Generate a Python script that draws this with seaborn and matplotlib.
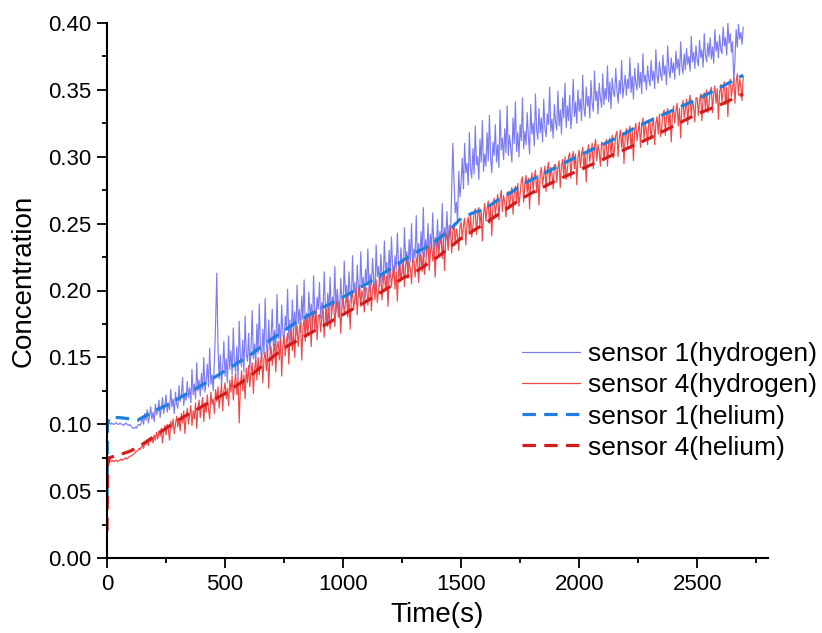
import numpy as np
import pandas as pd
import matplotlib
matplotlib.use("Agg")
import matplotlib.pyplot as plt
import seaborn as sns

# ---------------- data ----------------
# hydrogen series sampled every 5 s from 0 to 2695 s
h_time = np.arange(0, 2700, 5)

h1_hydrogen = [
    0.088, 0.100, 0.101, 0.100, 0.101, 0.100, 0.100, 0.101, 0.101, 0.100,
    0.100, 0.101, 0.100, 0.100, 0.099, 0.100, 0.101, 0.100, 0.099, 0.100,
    0.099, 0.098, 0.097, 0.097, 0.098, 0.097, 0.099, 0.100, 0.099, 0.101,
    0.104, 0.100, 0.108, 0.103, 0.111, 0.101, 0.106, 0.113, 0.104, 0.109,
    0.102, 0.115, 0.107, 0.110, 0.118, 0.105, 0.112, 0.120, 0.108, 0.114,
    0.122, 0.109, 0.116, 0.111, 0.126, 0.113, 0.119, 0.108, 0.124, 0.115,
    0.112, 0.129, 0.117, 0.121, 0.135, 0.114, 0.123, 0.118, 0.132, 0.120,
    0.127, 0.116, 0.141, 0.122, 0.130, 0.119, 0.146, 0.125, 0.133, 0.121,
    0.138, 0.126, 0.150, 0.124, 0.132, 0.145, 0.128, 0.157, 0.130, 0.137,
    0.125, 0.148, 0.175, 0.213, 0.160, 0.134, 0.152, 0.129, 0.143, 0.162,
    0.136, 0.149, 0.131, 0.166, 0.141, 0.155, 0.137, 0.172, 0.145, 0.139,
    0.158, 0.134, 0.177, 0.150, 0.143, 0.163, 0.139, 0.181, 0.152, 0.147,
    0.168, 0.141, 0.156, 0.185, 0.149, 0.160, 0.144, 0.175, 0.153, 0.190,
    0.157, 0.148, 0.171, 0.152, 0.194, 0.160, 0.151, 0.178, 0.155, 0.166,
    0.186, 0.158, 0.170, 0.153, 0.197, 0.164, 0.175, 0.157, 0.189, 0.168,
    0.161, 0.181, 0.172, 0.201, 0.164, 0.178, 0.160, 0.193, 0.170, 0.184,
    0.166, 0.204, 0.175, 0.186, 0.169, 0.196, 0.178, 0.208, 0.172, 0.183,
    0.175, 0.199, 0.181, 0.190, 0.171, 0.211, 0.184, 0.177, 0.195, 0.186,
    0.206, 0.179, 0.191, 0.183, 0.214, 0.188, 0.176, 0.198, 0.185, 0.210,
    0.182, 0.195, 0.189, 0.218, 0.184, 0.201, 0.192, 0.180, 0.209, 0.193,
    0.187, 0.222, 0.196, 0.204, 0.185, 0.214, 0.199, 0.191, 0.226, 0.198,
    0.206, 0.190, 0.219, 0.201, 0.195, 0.229, 0.203, 0.210, 0.194, 0.216,
    0.205, 0.231, 0.199, 0.212, 0.204, 0.224, 0.208, 0.197, 0.234, 0.210,
    0.218, 0.203, 0.227, 0.211, 0.206, 0.237, 0.214, 0.221, 0.205, 0.230,
    0.212, 0.240, 0.217, 0.209, 0.226, 0.215, 0.243, 0.219, 0.210, 0.232,
    0.220, 0.212, 0.247, 0.223, 0.229, 0.215, 0.238, 0.221, 0.250, 0.218,
    0.231, 0.224, 0.256, 0.222, 0.235, 0.219, 0.244, 0.228, 0.262, 0.225,
    0.238, 0.229, 0.250, 0.224, 0.242, 0.233, 0.258, 0.227, 0.240, 0.231,
    0.253, 0.230, 0.244, 0.235, 0.265, 0.232, 0.247, 0.238, 0.259, 0.236,
    0.249, 0.241, 0.275, 0.310, 0.282, 0.258, 0.266, 0.251, 0.289, 0.270,
    0.281, 0.299, 0.276, 0.310, 0.288, 0.295, 0.279, 0.318, 0.291, 0.284,
    0.306, 0.287, 0.323, 0.294, 0.300, 0.283, 0.313, 0.296, 0.327, 0.289,
    0.302, 0.293, 0.318, 0.297, 0.331, 0.299, 0.288, 0.311, 0.301, 0.324,
    0.296, 0.309, 0.292, 0.335, 0.305, 0.314, 0.298, 0.321, 0.303, 0.338,
    0.301, 0.316, 0.307, 0.296, 0.329, 0.310, 0.341, 0.304, 0.318, 0.300,
    0.324, 0.312, 0.344, 0.306, 0.319, 0.309, 0.333, 0.315, 0.302, 0.339,
    0.317, 0.325, 0.308, 0.347, 0.320, 0.313, 0.336, 0.318, 0.329, 0.311,
    0.343, 0.321, 0.315, 0.332, 0.324, 0.352, 0.319, 0.328, 0.314, 0.339,
    0.326, 0.320, 0.349, 0.323, 0.335, 0.317, 0.344, 0.329, 0.355, 0.322,
    0.338, 0.327, 0.346, 0.321, 0.333, 0.358, 0.330, 0.341, 0.325, 0.350,
    0.334, 0.343, 0.327, 0.361, 0.336, 0.330, 0.352, 0.338, 0.345, 0.329,
    0.357, 0.340, 0.334, 0.364, 0.342, 0.349, 0.332, 0.355, 0.344, 0.337,
    0.362, 0.339, 0.351, 0.343, 0.368, 0.341, 0.356, 0.336, 0.359, 0.348,
    0.345, 0.366, 0.350, 0.340, 0.357, 0.347, 0.372, 0.344, 0.353, 0.361,
    0.346, 0.358, 0.351, 0.374, 0.348, 0.360, 0.343, 0.366, 0.355, 0.350,
    0.370, 0.352, 0.363, 0.347, 0.377, 0.356, 0.361, 0.350, 0.368, 0.358,
    0.353, 0.372, 0.357, 0.364, 0.351, 0.380, 0.360, 0.355, 0.371, 0.362,
    0.357, 0.376, 0.361, 0.368, 0.354, 0.383, 0.365, 0.359, 0.374, 0.363,
    0.370, 0.358, 0.379, 0.366, 0.373, 0.361, 0.386, 0.368, 0.362, 0.377,
    0.365, 0.381, 0.369, 0.375, 0.364, 0.390, 0.371, 0.378, 0.366, 0.383,
    0.372, 0.368, 0.387, 0.374, 0.380, 0.367, 0.392, 0.376, 0.371, 0.385,
    0.375, 0.389, 0.373, 0.382, 0.370, 0.395, 0.379, 0.386, 0.374, 0.391,
    0.380, 0.377, 0.397, 0.383, 0.389, 0.376, 0.400, 0.385, 0.392, 0.378,
    0.386, 0.356, 0.372, 0.395, 0.382, 0.399, 0.388, 0.393, 0.384, 0.397,
]

h4_hydrogen = [
    0.055, 0.071, 0.072, 0.073, 0.072, 0.073, 0.072, 0.073, 0.073, 0.072,
    0.073, 0.073, 0.074, 0.073, 0.074, 0.074, 0.075, 0.074, 0.075, 0.076,
    0.076, 0.077, 0.077, 0.078, 0.079, 0.080, 0.080, 0.082, 0.081, 0.083,
    0.084, 0.082, 0.086, 0.085, 0.088, 0.084, 0.089, 0.087, 0.090, 0.086,
    0.092, 0.088, 0.094, 0.089, 0.095, 0.091, 0.097, 0.086, 0.094, 0.099,
    0.092, 0.100, 0.096, 0.088, 0.102, 0.097, 0.104, 0.093, 0.100, 0.106,
    0.098, 0.104, 0.095, 0.108, 0.101, 0.110, 0.093, 0.105, 0.112, 0.100,
    0.107, 0.114, 0.099, 0.110, 0.104, 0.116, 0.097, 0.112, 0.118, 0.105,
    0.113, 0.120, 0.102, 0.116, 0.109, 0.122, 0.111, 0.104, 0.124, 0.115,
    0.119, 0.108, 0.126, 0.117, 0.128, 0.112, 0.121, 0.130, 0.110, 0.125,
    0.131, 0.119, 0.127, 0.114, 0.133, 0.124, 0.136, 0.118, 0.129, 0.138,
    0.122, 0.134, 0.101, 0.128, 0.140, 0.125, 0.137, 0.119, 0.142, 0.131,
    0.144, 0.128, 0.139, 0.146, 0.123, 0.141, 0.148, 0.133, 0.150, 0.137,
    0.146, 0.152, 0.131, 0.149, 0.154, 0.140, 0.156, 0.127, 0.151, 0.158,
    0.144, 0.155, 0.160, 0.139, 0.157, 0.162, 0.148, 0.164, 0.136, 0.159,
    0.166, 0.151, 0.162, 0.168, 0.145, 0.165, 0.170, 0.155, 0.172, 0.150,
    0.168, 0.174, 0.158, 0.171, 0.176, 0.148, 0.173, 0.178, 0.162, 0.180,
    0.167, 0.176, 0.182, 0.158, 0.179, 0.184, 0.170, 0.186, 0.163, 0.181,
    0.182, 0.169, 0.180, 0.185, 0.165, 0.181, 0.186, 0.173, 0.188, 0.171,
    0.179, 0.189, 0.192, 0.173, 0.187, 0.193, 0.180, 0.191, 0.168, 0.188,
    0.195, 0.182, 0.191, 0.197, 0.180, 0.193, 0.171, 0.194, 0.199, 0.186,
    0.194, 0.201, 0.182, 0.198, 0.204, 0.188, 0.200, 0.195, 0.184, 0.202,
    0.202, 0.189, 0.200, 0.205, 0.185, 0.201, 0.206, 0.193, 0.208, 0.191,
    0.199, 0.209, 0.212, 0.193, 0.207, 0.213, 0.200, 0.211, 0.188, 0.208,
    0.216, 0.203, 0.212, 0.218, 0.201, 0.214, 0.192, 0.215, 0.220, 0.207,
    0.215, 0.222, 0.203, 0.219, 0.225, 0.209, 0.221, 0.216, 0.205, 0.223,
    0.223, 0.210, 0.221, 0.226, 0.206, 0.222, 0.227, 0.214, 0.229, 0.212,
    0.221, 0.231, 0.234, 0.215, 0.229, 0.235, 0.222, 0.233, 0.210, 0.230,
    0.239, 0.226, 0.235, 0.241, 0.224, 0.237, 0.215, 0.238, 0.243, 0.230,
    0.240, 0.247, 0.228, 0.244, 0.250, 0.234, 0.246, 0.241, 0.230, 0.248,
    0.251, 0.238, 0.249, 0.254, 0.234, 0.250, 0.255, 0.242, 0.257, 0.240,
    0.248, 0.258, 0.261, 0.242, 0.256, 0.262, 0.249, 0.260, 0.237, 0.257,
    0.265, 0.252, 0.261, 0.267, 0.250, 0.263, 0.241, 0.264, 0.269, 0.256,
    0.265, 0.272, 0.253, 0.269, 0.275, 0.259, 0.271, 0.266, 0.255, 0.273,
    0.274, 0.261, 0.272, 0.277, 0.257, 0.273, 0.278, 0.265, 0.280, 0.263,
    0.272, 0.282, 0.285, 0.266, 0.280, 0.286, 0.273, 0.284, 0.261, 0.281,
    0.288, 0.275, 0.284, 0.290, 0.273, 0.286, 0.264, 0.287, 0.292, 0.279,
    0.286, 0.293, 0.274, 0.290, 0.296, 0.280, 0.292, 0.287, 0.276, 0.294,
    0.294, 0.281, 0.292, 0.297, 0.277, 0.293, 0.298, 0.285, 0.300, 0.283,
    0.290, 0.300, 0.303, 0.284, 0.298, 0.304, 0.291, 0.302, 0.279, 0.299,
    0.305, 0.292, 0.301, 0.307, 0.290, 0.303, 0.281, 0.304, 0.309, 0.296,
    0.303, 0.310, 0.291, 0.307, 0.313, 0.297, 0.309, 0.304, 0.293, 0.311,
    0.310, 0.297, 0.308, 0.313, 0.293, 0.309, 0.314, 0.301, 0.316, 0.299,
    0.306, 0.316, 0.319, 0.300, 0.314, 0.320, 0.307, 0.318, 0.295, 0.315,
    0.321, 0.308, 0.317, 0.323, 0.306, 0.319, 0.297, 0.320, 0.325, 0.312,
    0.319, 0.326, 0.307, 0.323, 0.329, 0.313, 0.325, 0.320, 0.309, 0.327,
    0.326, 0.313, 0.324, 0.329, 0.309, 0.325, 0.330, 0.317, 0.332, 0.315,
    0.322, 0.332, 0.335, 0.316, 0.330, 0.336, 0.323, 0.334, 0.311, 0.331,
    0.338, 0.325, 0.334, 0.340, 0.323, 0.336, 0.314, 0.337, 0.342, 0.329,
    0.336, 0.343, 0.324, 0.340, 0.346, 0.330, 0.342, 0.337, 0.326, 0.344,
    0.344, 0.331, 0.342, 0.347, 0.327, 0.343, 0.348, 0.335, 0.350, 0.333,
    0.339, 0.349, 0.352, 0.333, 0.347, 0.353, 0.340, 0.351, 0.328, 0.348,
    0.354, 0.341, 0.350, 0.356, 0.339, 0.352, 0.330, 0.353, 0.358, 0.345,
    0.352, 0.359, 0.340, 0.356, 0.362, 0.346, 0.358, 0.353, 0.342, 0.360,
]

he1_time = [0, 2, 10, 50, 100, 130, 160, 200, 250, 300, 400, 500, 600, 700,
            800, 900, 1000, 1100, 1200, 1300, 1350, 1400, 1450, 1500, 1550,
            1600, 1650, 1700, 1750, 1800, 1900, 2000, 2100, 2200, 2250, 2300,
            2400, 2500, 2600, 2695]
he1_helium = [0.045, 0.100, 0.105, 0.105, 0.104, 0.103, 0.106, 0.110, 0.114,
              0.119, 0.129, 0.140, 0.151, 0.164, 0.176, 0.186, 0.195, 0.205,
              0.216, 0.228, 0.232, 0.238, 0.245, 0.254, 0.258, 0.261, 0.267,
              0.272, 0.278, 0.283, 0.292, 0.301, 0.309, 0.318, 0.323, 0.327,
              0.335, 0.343, 0.352, 0.361]

he4_time = [0, 3, 10, 50, 100, 150, 200, 250, 300, 400, 500, 600, 700, 750,
            800, 900, 1000, 1100, 1200, 1250, 1300, 1400, 1500, 1600, 1700,
            1750, 1800, 1900, 2000, 2100, 2200, 2250, 2300, 2400, 2500, 2600,
            2695]
he4_helium = [0.020, 0.070, 0.075, 0.077, 0.080, 0.085, 0.091, 0.097, 0.103,
              0.113, 0.123, 0.135, 0.150, 0.157, 0.162, 0.172, 0.182, 0.192,
              0.203, 0.209, 0.213, 0.225, 0.239, 0.250, 0.262, 0.268, 0.273,
              0.282, 0.290, 0.298, 0.306, 0.310, 0.314, 0.323, 0.332, 0.339,
              0.347]

labels = ["sensor 1(hydrogen)", "sensor 4(hydrogen)",
          "sensor 1(helium)", "sensor 4(helium)"]
x_ticks = [0, 500, 1000, 1500, 2000, 2500]
y_ticks = [0.00, 0.05, 0.10, 0.15, 0.20, 0.25, 0.30, 0.35, 0.40]

# ---------------- plotting ----------------
sns.set_style("ticks")
plt.rcParams["font.family"] = ["Liberation Sans", "DejaVu Sans"]
plt.rcParams["text.color"] = "black"
plt.rcParams["axes.labelcolor"] = "black"

fig = plt.figure(figsize=(8.22, 6.33), dpi=100)
ax = fig.add_axes([107 / 822, 1 - 558 / 633, (768 - 107) / 822, (558 - 23) / 633])

sns.lineplot(x=h_time, y=h1_hydrogen, ax=ax, color="#7C7CF3", lw=0.85,
             label=labels[0], estimator=None, sort=False)
sns.lineplot(x=h_time, y=h4_hydrogen, ax=ax, color="#F04848", lw=0.85,
             label=labels[1], estimator=None, sort=False)
sns.lineplot(x=he1_time, y=he1_helium, ax=ax, color="#1E7FE0", lw=2.3,
             label=labels[2], estimator=None, sort=False)
sns.lineplot(x=he4_time, y=he4_helium, ax=ax, color="#D41C1C", lw=2.3,
             label=labels[3], estimator=None, sort=False)
for ln in ax.lines[2:4]:
    ln.set_dashes((4.2, 2.6))

ax.set_xlim(0, 2800)
ax.set_ylim(0, 0.40)
ax.set_xticks(x_ticks)
ax.set_xticks(np.arange(250, 2800, 500), minor=True)
ax.set_yticks(y_ticks)
ax.set_yticks(np.arange(0.025, 0.40, 0.05), minor=True)
ax.set_yticklabels([f"{v:.2f}" for v in y_ticks])

for side in ["top", "right"]:
    ax.spines[side].set_visible(False)
for side in ["left", "bottom"]:
    ax.spines[side].set_linewidth(1.5)
    ax.spines[side].set_color("black")

ax.tick_params(which="major", direction="out", length=7.2, width=1.3,
               labelsize=16, color="black", labelcolor="black", pad=4)
ax.tick_params(which="minor", direction="out", length=3.6, width=1.3,
               color="black")

ax.set_xlabel("Time(s)", fontsize=20, color="black")
ax.set_ylabel("Concentration", fontsize=20, color="black")
ax.xaxis.set_label_coords(0.5, -0.082)
ax.yaxis.set_label_coords(-0.107, 0.518)

leg = ax.legend(loc="center left", bbox_to_anchor=(522 / 822, 1 - 401 / 633),
                bbox_transform=fig.transFigure, frameon=False, fontsize=19,
                handlelength=2.2, handletextpad=0.3, labelspacing=0.27,
                borderpad=0, borderaxespad=0)
for t in leg.get_texts():
    t.set_color("black")
for h in leg.get_lines()[:2]:
    h.set_linewidth(0.9)

fig.savefig("out.png", dpi=100)
